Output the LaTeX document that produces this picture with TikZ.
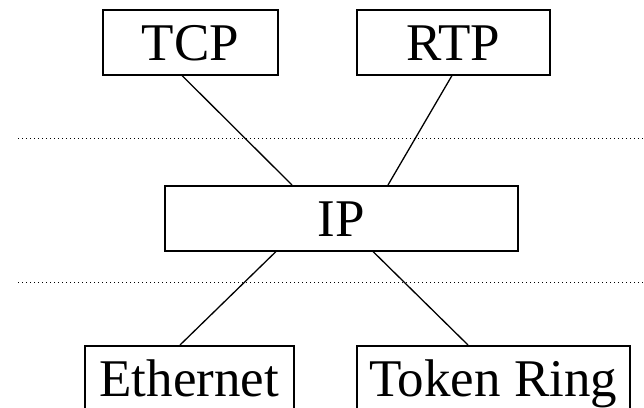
\documentclass[tikz,border=0pt]{standalone}
\usepackage{fontspec}
\setmainfont{Liberation Serif}
\usetikzlibrary{calc}
\tikzset{
  layerbox/.style={draw=black, line width=1.5pt, inner sep=0pt, anchor=north west,
    font=\fontsize{53}{53}\selectfont, text height=36pt, text depth=0pt, minimum height=65pt},
  link/.style={draw=black, line width=1.3pt},
  divider/.style={draw=black, line width=1pt, dash pattern=on 1pt off 3pt}
}
\begin{document}
\begin{tikzpicture}[x=1pt, y=-1pt]
  \clip (0,0) rectangle (644,407);
  \fill[white] (0,0) rectangle (644,407);
  % dotted dividers
  \coordinate (d1a) at (18,138);
  \coordinate (d1b) at (644,138);
  \coordinate (d2a) at (18,282);
  \coordinate (d2b) at (644,282);
  \draw[divider] (d1a) -- (d1b);
  \draw[divider] (d2a) -- (d2b);
  % boxes
  \node[layerbox, minimum width=175pt] (tcp) at (102,9) {TCP};
  \node[layerbox, minimum width=193pt] (rtp) at (356,9) {RTP};
  \node[layerbox, minimum width=353pt] (ip) at (164,185) {IP};
  \node[layerbox, minimum width=209pt] (eth) at (84,345) {Ethernet};
  \node[layerbox, minimum width=273pt] (tr) at (356,345) {Token Ring};
  % connectors
  \draw[link] ($(tcp.south west)+(80,0)$) -- ($(ip.north west)+(128,0)$);
  \draw[link] ($(rtp.south west)+(96,0)$) -- ($(ip.north west)+(224,0)$);
  \draw[link] ($(ip.south west)+(112,0)$) -- ($(eth.north west)+(96,0)$);
  \draw[link] ($(ip.south west)+(209,0)$) -- ($(tr.north west)+(112,0)$);
\end{tikzpicture}
\end{document}
